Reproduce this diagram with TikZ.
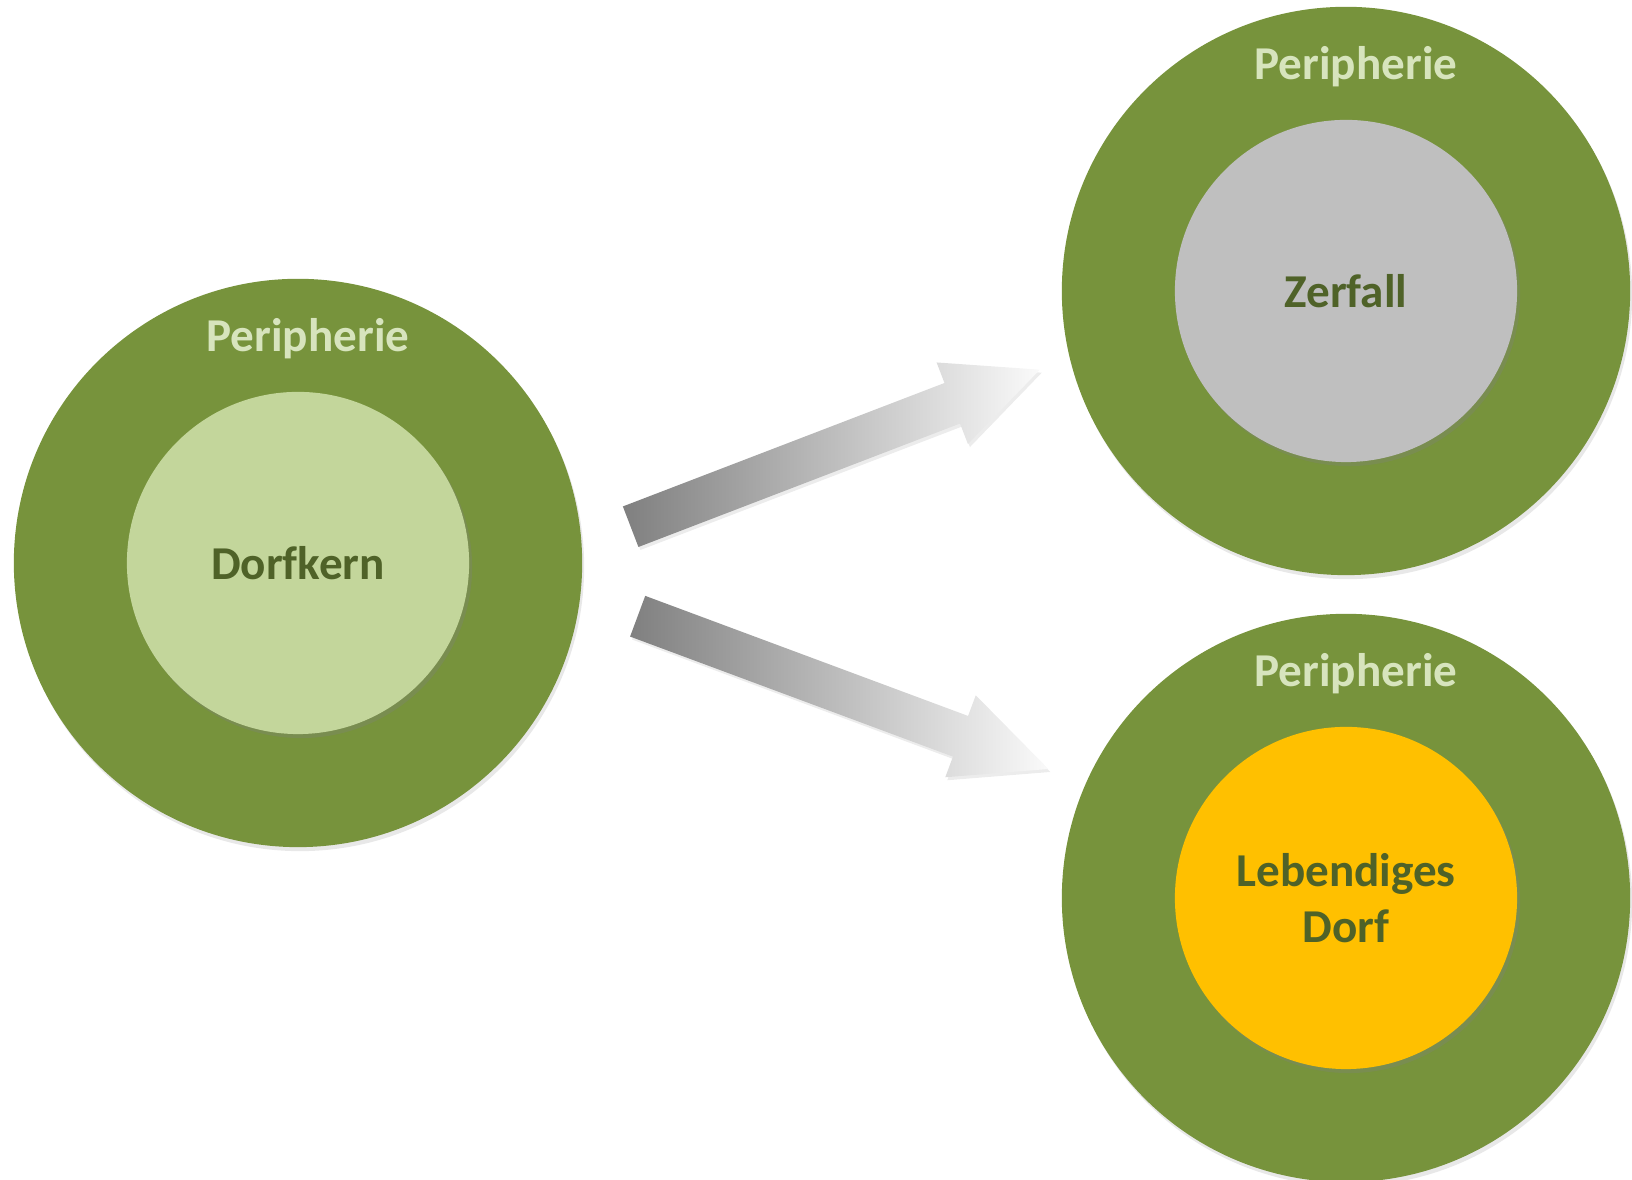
\documentclass[tikz,border=0pt]{standalone}
\usepackage{fontspec}
\setmainfont[Ligatures=NoCommon]{Carlito}
\usetikzlibrary{shapes,shadows,positioning}
\definecolor{rimgreen}{HTML}{77933C}
\definecolor{perigreen}{HTML}{D7E4BD}
\definecolor{kerngreen}{HTML}{C3D69B}
\definecolor{textgreen}{HTML}{4F6228}
\definecolor{ruin}{HTML}{BFBFBF}
\definecolor{alive}{HTML}{FFC000}

\begin{document}
\begin{tikzpicture}[x=0.01cm,y=0.01cm,
  rim/.style={circle,fill=rimgreen,minimum size=5.68cm,inner sep=0,
    drop shadow={opacity=0.18,shadow xshift=0.02cm,shadow yshift=-0.04cm}},
  core/.style={circle,minimum size=3.42cm,inner sep=0,text=textgreen,align=center,
    font=\fontsize{13.4}{15.9}\selectfont\bfseries,
    drop shadow={opacity=0.3,shadow xshift=0.03cm,shadow yshift=-0.04cm}},
  peri/.style={text=perigreen,font=\fontsize{13.4}{16}\selectfont\bfseries},
  flow/.style={single arrow,inner xsep=0,inner ysep=0.21cm,minimum height=4.38cm,
    single arrow head extend=0.22cm,single arrow tip angle=50,
    left color=gray,right color=white!96!gray,
    drop shadow={opacity=0.15,shadow xshift=0.02cm,shadow yshift=-0.03cm}}]
\useasboundingbox (0,0) rectangle (1632,1180);
\node [rim] (rim1) at (298,617) {};
\node [core,fill=kerngreen] (kern) at (rim1) {Dorfkern};
\node [peri] (peri1) at ([xshift=0.1cm,yshift=-0.61cm]rim1.north) {Peripherie};
\node [rim] (rim2) at (1346,889) {};
\node [core,fill=ruin] (zerfall) at (rim2) {Zerfall};
\node [peri] (peri2) at ([xshift=0.1cm,yshift=-0.61cm]rim2.north) {Peripherie};
\node [rim] (rim3) at (1346,282) {};
\node [core,fill=alive] (dorf) at (rim3) {Lebendiges\\Dorf};
\node [peri] (peri3) at ([xshift=0.1cm,yshift=-0.61cm]rim3.north) {Peripherie};
\node [flow,rotate=21,anchor=tail] (up) at (630,653) {};
\node [flow,rotate=-20.4,anchor=tail] (down) at (637,564) {};
\end{tikzpicture}
\end{document}
